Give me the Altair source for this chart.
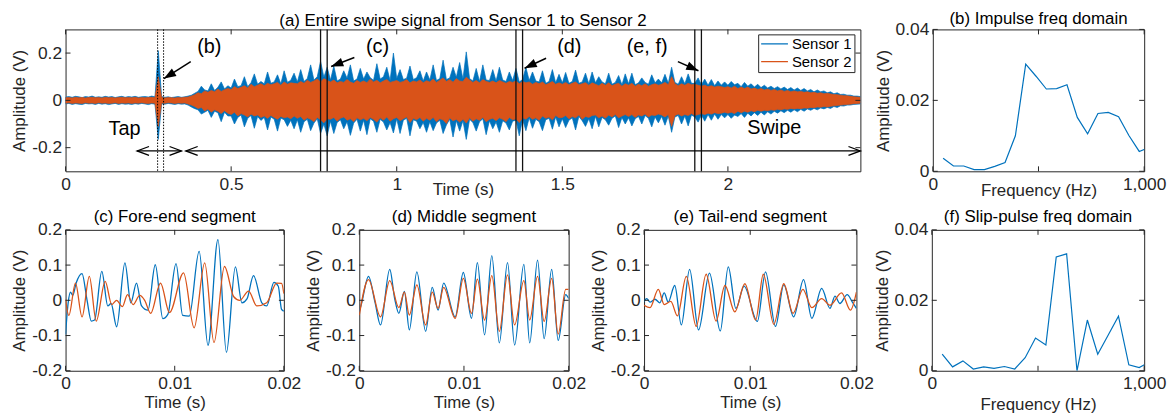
import altair as alt
import pandas as pd

FONT = "Liberation Sans"
BLUE = "#0072BD"
ORANGE = "#D95319"
INK = "#262626"
SENSORS = ["Sensor 1", "Sensor 2"]

# ---------------- (a) entire swipe: envelope read every 0.01 s, 0 .. 2.40 s
A_STEP = 0.01
s1_hi = [
    .014, .016, .013, .017, .015, .012, .016, .014, .018, .013,
    .015, .013, .017, .014, .016, .012, .015, .017, .013, .016,
    .014, .017, .013, .015, .016, .014, .018, .015, .210, .016,
    .013, .015, .012, .014, .016, .013, .015, .018, .022, .030,
    .038, .060, .044, .040, .070, .042, .055, .078, .048, .062,
    .052, .090, .058, .062, .100, .058, .075, .112, .068, .080,
    .070, .120, .072, .078, .108, .070, .125, .076, .085, .115,
    .078, .130, .080, .092, .150, .086, .100, .165, .098, .140,
    .086, .145, .082, .090, .125, .094, .150, .082, .090, .135,
    .090, .120, .096, .085, .155, .090, .100, .140, .084, .200,
    .092, .130, .088, .094, .145, .088, .096, .125, .082, .120,
    .086, .150, .084, .092, .170, .088, .095, .140, .098, .160,
    .090, .205, .092, .082, .135, .080, .150, .086, .084, .130,
    .082, .140, .086, .080, .120, .084, .135, .078, .088, .140,
    .084, .120, .082, .078, .125, .072, .080, .130, .074, .110,
    .074, .118, .072, .080, .128, .072, .078, .115, .070, .120,
    .074, .100, .078, .070, .115, .068, .076, .105, .066, .112,
    .070, .115, .066, .074, .095, .076, .068, .108, .074, .090,
    .074, .110, .072, .140, .076, .068, .100, .070, .112, .072,
    .072, .095, .066, .090, .064, .088, .062, .082, .064, .078,
    .064, .080, .066, .072, .058, .076, .060, .070, .056, .068,
    .054, .064, .052, .060, .050, .058, .048, .056, .046, .054,
    .044, .052, .042, .050, .040, .046, .036, .044, .036, .040,
    .032, .036, .028, .032, .025, .026, .022, .022, .018, .018,
    .016,
]
s1_lo = [
    -.015, -.013, -.017, -.014, -.016, -.018, -.013, -.015, -.014, -.017,
    -.013, -.016, -.014, -.018, -.015, -.013, -.017, -.014, -.016, -.015,
    -.017, -.014, -.016, -.013, -.015, -.018, -.014, -.016, -.165, -.015,
    -.016, -.013, -.015, -.017, -.014, -.016, -.015, -.020, -.028, -.035,
    -.040, -.058, -.050, -.042, -.072, -.046, -.052, -.090, -.050, -.066,
    -.066, -.100, -.072, -.062, -.112, -.076, -.064, -.118, -.068, -.085,
    -.072, -.125, -.070, -.080, -.130, -.075, -.082, -.110, -.084, -.120,
    -.082, -.135, -.090, -.080, -.128, -.096, -.078, -.140, -.100, -.150,
    -.088, -.140, -.094, -.082, -.120, -.090, -.148, -.096, -.080, -.130,
    -.084, -.145, -.078, -.088, -.135, -.080, -.092, -.125, -.094, -.138,
    -.078, -.140, -.084, -.076, -.150, -.082, -.088, -.120, -.094, -.135,
    -.090, -.128, -.096, -.084, -.140, -.104, -.080, -.155, -.086, -.130,
    -.086, -.165, -.080, -.094, -.130, -.090, -.078, -.145, -.086, -.120,
    -.092, -.135, -.086, -.096, -.125, -.088, -.084, -.150, -.080, -.128,
    -.074, -.118, -.080, -.090, -.128, -.082, -.076, -.122, -.070, -.112,
    -.078, -.115, -.084, -.074, -.125, -.068, -.086, -.110, -.078, -.120,
    -.068, -.112, -.072, -.082, -.105, -.076, -.066, -.115, -.072, -.100,
    -.074, -.108, -.078, -.068, -.100, -.064, -.076, -.112, -.070, -.095,
    -.068, -.105, -.066, -.135, -.070, -.064, -.100, -.066, -.108, -.062,
    -.070, -.092, -.062, -.088, -.060, -.084, -.058, -.080, -.060, -.074,
    -.060, -.076, -.062, -.068, -.056, -.072, -.054, -.066, -.052, -.064,
    -.050, -.062, -.048, -.058, -.046, -.054, -.044, -.052, -.042, -.050,
    -.040, -.048, -.038, -.046, -.036, -.042, -.034, -.040, -.032, -.036,
    -.030, -.034, -.026, -.030, -.023, -.024, -.020, -.020, -.017, -.016,
    -.015,
]
s2_hi = [
    .011, .012, .010, .013, .011, .012, .010, .012, .013, .011,
    .012, .010, .013, .011, .012, .010, .012, .013, .011, .012,
    .011, .013, .010, .012, .011, .012, .013, .011, .100, .012,
    .010, .012, .011, .010, .012, .011, .013, .014, .018, .024,
    .032, .028, .040, .034, .042, .036, .048, .038, .045, .050,
    .046, .058, .050, .055, .062, .052, .068, .058, .064, .070,
    .062, .072, .066, .070, .076, .064, .078, .068, .074, .072,
    .070, .080, .072, .085, .076, .082, .090, .078, .092, .084,
    .078, .086, .074, .080, .076, .088, .078, .072, .084, .076,
    .082, .075, .090, .078, .085, .074, .082, .088, .076, .080,
    .084, .076, .080, .088, .074, .082, .078, .086, .075, .083,
    .078, .090, .076, .085, .095, .080, .088, .077, .092, .082,
    .080, .098, .086, .076, .084, .074, .088, .080, .076, .082,
    .074, .084, .078, .072, .080, .076, .082, .070, .080, .074,
    .078, .068, .076, .070, .078, .066, .072, .080, .068, .074,
    .068, .076, .066, .072, .078, .066, .070, .075, .064, .074,
    .068, .062, .072, .064, .074, .062, .068, .072, .060, .070,
    .064, .072, .060, .068, .062, .070, .060, .066, .070, .064,
    .068, .076, .066, .100, .070, .062, .070, .064, .072, .066,
    .068, .064, .060, .064, .058, .062, .056, .060, .058, .054,
    .058, .052, .060, .050, .056, .050, .056, .048, .052, .046,
    .050, .044, .048, .042, .046, .040, .044, .038, .042, .036,
    .040, .036, .038, .034, .036, .032, .034, .030, .032, .028,
    .030, .027, .025, .024, .022, .020, .019, .017, .015, .014,
    .013,
]
s2_lo = [
    -.012, -.010, -.013, -.011, -.012, -.013, -.010, -.012, -.011, -.013,
    -.010, -.012, -.011, -.013, -.012, -.010, -.013, -.011, -.012, -.011,
    -.013, -.011, -.012, -.010, -.012, -.013, -.011, -.012, -.110, -.011,
    -.012, -.010, -.011, -.013, -.011, -.012, -.011, -.015, -.020, -.026,
    -.034, -.030, -.045, -.036, -.050, -.040, -.046, -.056, -.044, -.054,
    -.060, -.050, -.066, -.056, -.062, -.070, -.058, -.066, -.062, -.072,
    -.066, -.076, -.064, -.072, -.080, -.068, -.074, -.070, -.078, -.066,
    -.076, -.068, -.084, -.074, -.080, -.090, -.072, -.082, -.095, -.078,
    -.080, -.072, -.088, -.076, -.070, -.084, -.078, -.090, -.074, -.082,
    -.076, -.086, -.072, -.080, -.092, -.074, -.084, -.070, -.088, -.078,
    -.072, -.086, -.078, -.070, -.094, -.076, -.082, -.072, -.088, -.076,
    -.084, -.072, -.090, -.078, -.082, -.098, -.074, -.086, -.080, -.092,
    -.080, -.096, -.074, -.088, -.078, -.084, -.072, -.090, -.080, -.076,
    -.086, -.074, -.080, -.090, -.072, -.082, -.078, -.094, -.074, -.080,
    -.068, -.080, -.074, -.084, -.066, -.076, -.070, -.082, -.064, -.074,
    -.072, -.064, -.078, -.068, -.074, -.062, -.080, -.068, -.072, -.064,
    -.062, -.074, -.066, -.076, -.062, -.070, -.060, -.074, -.066, -.060,
    -.068, -.060, -.072, -.062, -.066, -.058, -.070, -.062, -.064, -.058,
    -.062, -.070, -.060, -.110, -.064, -.058, -.066, -.060, -.064, -.056,
    -.064, -.060, -.056, -.060, -.054, -.058, -.052, -.056, -.054, -.050,
    -.054, -.050, -.056, -.046, -.052, -.046, -.050, -.044, -.048, -.042,
    -.046, -.042, -.044, -.040, -.042, -.038, -.040, -.036, -.038, -.034,
    -.036, -.034, -.035, -.032, -.033, -.030, -.031, -.028, -.029, -.026,
    -.028, -.025, -.023, -.022, -.020, -.019, -.017, -.016, -.014, -.013,
    -.012,
]

a_xticks = [0, 0.5, 1, 1.5, 2]
a_yticks = [-0.2, 0, 0.2]
tap_lines = [0.278, 0.296]
segment_lines = [0.77, 0.79, 1.36, 1.38, 1.90, 1.92]

ann_labels = ["(b)", "(c)", "(d)", "(e, f)"]
ann_t = [0.434, 0.942, 1.521, 1.756]
ann_v = [0.202, 0.202, 0.202, 0.202]
arrow_tail_t = [0.378, 0.872, 1.451, 1.849]
arrow_tail_v = [0.164, 0.181, 0.178, 0.164]
arrow_tip_t = [0.297, 0.802, 1.386, 1.911]
arrow_tip_v = [0.092, 0.143, 0.136, 0.125]
arrow_angle = [238, 249, 245, 114]

span_labels = ["Tap", "Swipe"]
span_label_t = [0.178, 2.140]
span_label_v = [-0.147, -0.141]
span_start = [0.216, 0.363]
span_end = [0.350, 2.400]
span_level = [-0.214, -0.214]

# ---------------- (b), (f) spectra
fft_freq = [48.8, 97.7, 146.5, 195.3, 244.1, 293.0, 341.8, 390.6, 439.5, 488.3, 537.1,
            585.9, 634.8, 683.6, 732.4, 781.3, 830.1, 878.9, 927.7, 976.6, 1025.4]
impulse_amp = [0.0037, 0.0015, 0.0015, 0.0005, 0.0005, 0.0014, 0.0025, 0.0100, 0.0302, 0.0268, 0.0232,
               0.0233, 0.0244, 0.0152, 0.0106, 0.0163, 0.0166, 0.0154, 0.0101, 0.0056, 0.0068]
slip_amp = [0.0047, 0.0011, 0.0028, 0.0005, 0.0011, 0.0007, 0.0012, 0.0005, 0.0037, 0.0093, 0.0073,
            0.0323, 0.0332, 0.0000, 0.0144, 0.0047, 0.0101, 0.0155, 0.0017, 0.0009, 0.0025]
f_xticks = [0, 500, 1000]
f_xlabels = [0, 1000]
f_yticks = [0, 0.02, 0.04]

# ---------------- (c), (d), (e) 20 ms segments
c_s1_t = [0, 0.00024, 0.00045, 0.00066, 0.00097, 0.00151, 0.00196, 0.00236, 0.00266, 0.00332, 0.00387,
          0.00417, 0.00468, 0.00544, 0.00598, 0.0065, 0.00695, 0.00755, 0.00822, 0.00891, 0.00937,
          0.01012, 0.01073, 0.01133, 0.01224, 0.01305, 0.01396, 0.01474, 0.01556, 0.01616, 0.01662,
          0.01722, 0.01798, 0.01843, 0.01909, 0.01949, 0.01979, 0.02]
c_s1_v = [-0.097, -0.007, 0.023, 0.014, 0.049, 0.076, 0.002, -0.059, -0.056, 0.082, -0.016,
          -0.009, -0.075, 0.106, -0.007, 0.049, -0.015, -0.028, 0.101, -0.052, -0.040,
          0.104, -0.043, -0.045, 0.139, -0.128, 0.172, -0.148, 0.095, -0.007, 0.004,
          0.070, -0.007, -0.016, 0.051, 0.040, -0.026, -0.031]
c_s2_t = [0, 0.0003, 0.00091, 0.00151, 0.00218, 0.00281, 0.00363, 0.00423, 0.00468, 0.0052, 0.00568,
          0.00619, 0.0068, 0.00725, 0.0078, 0.0087, 0.00952, 0.01081, 0.01178, 0.01275, 0.0136,
          0.01456, 0.01541, 0.01595, 0.01677, 0.01752, 0.01843, 0.01934, 0.01979, 0.02]
c_s2_v = [0.002, -0.043, 0.049, -0.047, 0.068, -0.059, 0.054, -0.012, 0.000, -0.018, 0.016,
          -0.012, 0.014, 0.000, -0.037, 0.049, -0.035, 0.078, -0.078, 0.106, -0.120,
          0.096, 0.010, 0.000, 0.026, -0.016, -0.007, 0.049, 0.048, 0.019]

d_s1_t = [0, 0.00025, 0.00088, 0.0015, 0.00203, 0.00291, 0.00338, 0.00378, 0.00431, 0.00478, 0.0055,
          0.00634, 0.00697, 0.00753, 0.00806, 0.00916, 0.00994, 0.01072, 0.01128, 0.01197, 0.01266,
          0.01338, 0.01416, 0.01484, 0.01572, 0.01628, 0.01703, 0.01766, 0.01838, 0.019, 0.01972, 0.02]
d_s1_v = [-0.033, -0.005, 0.068, -0.005, -0.070, 0.088, 0.005, -0.037, 0.025, -0.084, 0.081,
          -0.088, 0.037, -0.028, 0.049, -0.047, 0.079, -0.051, 0.107, -0.098, 0.127,
          -0.121, 0.107, -0.127, 0.102, -0.121, 0.114, -0.109, 0.088, -0.114, 0.016, 0.005]
d_s2_t = [0, 0.00088, 0.00203, 0.00291, 0.00378, 0.00431, 0.00478, 0.0055, 0.00634, 0.00697, 0.00753,
          0.00806, 0.00916, 0.00994, 0.01072, 0.01128, 0.01197, 0.01266, 0.01338, 0.01416, 0.01484,
          0.01572, 0.01628, 0.01703, 0.01766, 0.01838, 0.019, 0.01972, 0.02]
d_s2_v = [-0.042, 0.059, -0.047, 0.056, -0.021, 0.023, -0.042, 0.044, -0.070, 0.023, -0.023,
          0.037, -0.051, 0.062, -0.037, 0.060, -0.056, 0.070, -0.088, 0.072, -0.070,
          0.056, -0.056, 0.068, -0.060, 0.062, -0.096, 0.031, 0.031]

e_s1_t = [0, 0.00025, 0.00056, 0.00103, 0.00149, 0.0019, 0.00227, 0.00289, 0.00351, 0.00429, 0.00513,
          0.00616, 0.00718, 0.00793, 0.00865, 0.00942, 0.01067, 0.01144, 0.01238, 0.01316, 0.01409,
          0.01502, 0.0158, 0.01673, 0.01751, 0.01798, 0.01844, 0.01913, 0.01962, 0.02]
e_s1_v = [-0.003, 0.005, -0.005, 0.003, -0.007, 0.021, -0.005, 0.042, -0.070, 0.088, -0.084,
          0.077, -0.087, 0.095, -0.023, 0.040, -0.060, 0.081, -0.074, 0.044, -0.047,
          0.059, -0.051, 0.034, -0.023, 0.012, -0.009, 0.016, -0.005, -0.023]
e_s2_t = [0, 0.00056, 0.00134, 0.0019, 0.00252, 0.00314, 0.00398, 0.00491, 0.00585, 0.00678, 0.00762,
          0.00855, 0.00949, 0.01051, 0.01123, 0.01222, 0.01316, 0.01403, 0.01496, 0.0158, 0.01673,
          0.01751, 0.0186, 0.01944, 0.02]
e_s2_v = [-0.014, -0.021, 0.031, -0.012, -0.003, -0.044, 0.068, -0.074, 0.074, -0.059, 0.042,
          -0.033, 0.047, -0.056, 0.074, -0.068, 0.047, -0.037, 0.031, -0.021, 0.005,
          -0.014, 0.021, -0.028, 0.023]
seg_xticks = [0, 0.01, 0.02]
seg_yticks = [-0.2, -0.1, 0, 0.1, 0.2]

# ---------------- layout (pixels)
A_W, A_H = 801, 143
B_W = 213
ROW2_H = 142
C_W, D_W, E_W, F_W = 220, 211, 214, 214
TICK = 5

color_scale = alt.Scale(domain=SENSORS, range=[BLUE, ORANGE])
PLAIN = "'' + datum.value"


def inner_ticks(xs, ys, W, H, xscale, yscale, xaxis, yaxis):
    xdf = pd.DataFrame({"v": xs})
    ydf = pd.DataFrame({"v": ys})
    bx = alt.Chart(xdf).mark_rule(color=INK, strokeWidth=1)
    by = alt.Chart(ydf).mark_rule(color=INK, strokeWidth=1)
    X = alt.X("v:Q", scale=xscale, axis=xaxis)
    Y = alt.Y("v:Q", scale=yscale, axis=yaxis)
    return [
        bx.encode(x=X, y=alt.value(H), y2=alt.value(H - TICK)),
        bx.encode(x=X, y=alt.value(0), y2=alt.value(TICK)),
        by.encode(y=Y, x=alt.value(0), x2=alt.value(TICK)),
        by.encode(y=Y, x=alt.value(W), x2=alt.value(W - TICK)),
    ]


def y_axis(values):
    return alt.Axis(values=values, labelExpr=PLAIN, title="Amplitude (V)")


def panel_title(text, offset):
    return alt.TitleParams(text=text, frame="group", offset=offset)


# ---------------- panel (a)
n = len(s1_hi)
t_grid = [round(i * A_STEP, 2) for i in range(n)]
env = pd.DataFrame({
    "t": t_grid + t_grid,
    "sensor": ["Sensor 1"] * n + ["Sensor 2"] * n,
    "hi": s1_hi + s2_hi,
    "lo": s1_lo + s2_lo,
})
ax_x = alt.Scale(domain=[0, 2.4], nice=False, zero=False)
ax_y = alt.Scale(domain=[-0.3, 0.3], nice=False, zero=False)
a_xaxis = alt.Axis(values=a_xticks, labelExpr=PLAIN, title="Time (s)", titleY=23, titleBaseline="alphabetic")
a_yaxis = y_axis(a_yticks)
AX = dict(scale=ax_x, axis=a_xaxis)
AY = dict(scale=ax_y, axis=a_yaxis)

legend = alt.Legend(
    orient="none", legendX=698, legendY=5, title=None, symbolType="stroke",
    symbolSize=729, symbolStrokeWidth=1.3, clipHeight=15, rowPadding=2,
    labelFontSize=15, labelFont=FONT, labelColor="black", labelOffset=3,
    padding=2, strokeColor=INK, fillColor="white", labelLimit=200,
)
area_base = alt.Chart(env).mark_area(strokeWidth=0.7, strokeJoin="round", clip=True)
area_enc = dict(
    x=alt.X("t:Q", **AX),
    y=alt.Y("hi:Q", **AY),
    y2="lo:Q",
    fill=alt.Fill("sensor:N", scale=color_scale, legend=legend),
    stroke=alt.Stroke("sensor:N", scale=color_scale, legend=legend),
)
area1 = area_base.transform_filter("datum.sensor == 'Sensor 1'").encode(**area_enc)
area2 = area_base.transform_filter("datum.sensor == 'Sensor 2'").encode(**area_enc)

tap_df = pd.DataFrame({"t": tap_lines})
tap_rules = alt.Chart(tap_df).mark_rule(color="black", strokeWidth=1, strokeDash=[1.5, 1.5]).encode(
    x=alt.X("t:Q", **AX))
seg_df = pd.DataFrame({"t": segment_lines})
seg_rules = alt.Chart(seg_df).mark_rule(color="#111111", strokeWidth=1.3).encode(x=alt.X("t:Q", **AX))

span_df = pd.DataFrame({"t1": span_start, "t2": span_end, "v": span_level,
                        "label": span_labels, "lt": span_label_t, "lv": span_label_v})
span_rules = alt.Chart(span_df).mark_rule(color="black", strokeWidth=1.3).encode(
    x=alt.X("t1:Q", **AX), x2="t2:Q", y=alt.Y("v:Q", **AY))
left_heads = alt.Chart(span_df).mark_point(
    shape="M2,-0.75L0,0L2,0.75", filled=False, size=144, color="black", strokeWidth=1.3, opacity=1
).encode(x=alt.X("t1:Q", **AX), y=alt.Y("v:Q", **AY))
right_heads = alt.Chart(span_df).mark_point(
    shape="M-2,-0.75L0,0L-2,0.75", filled=False, size=144, color="black", strokeWidth=1.3, opacity=1
).encode(x=alt.X("t2:Q", **AX), y=alt.Y("v:Q", **AY))
span_text = alt.Chart(span_df).mark_text(font=FONT, fontSize=20, color="black", baseline="alphabetic",
                                         align="center").encode(
    x=alt.X("lt:Q", **AX), y=alt.Y("lv:Q", **AY), text="label:N")

ann_df = pd.DataFrame({"label": ann_labels, "lt": ann_t, "lv": ann_v,
                       "t1": arrow_tail_t, "v1": arrow_tail_v, "t2": arrow_tip_t, "v2": arrow_tip_v,
                       "ang": arrow_angle})
ann_text = alt.Chart(ann_df).mark_text(font=FONT, fontSize=20, color="black", baseline="alphabetic",
                                       align="center").encode(
    x=alt.X("lt:Q", **AX), y=alt.Y("lv:Q", **AY), text="label:N")
ann_lines = alt.Chart(ann_df).mark_rule(color="black", strokeWidth=1.5).encode(
    x=alt.X("t1:Q", **AX), y=alt.Y("v1:Q", **AY), x2="t2:Q", y2="v2:Q")
ann_heads = alt.Chart(ann_df).mark_point(
    shape="M0,0L-0.36,1L0.36,1Z", filled=True, size=600, color="black", opacity=1, strokeWidth=0
).encode(x=alt.X("t2:Q", **AX), y=alt.Y("v2:Q", **AY), angle=alt.Angle("ang:Q", scale=None))

panel_a = alt.layer(
    area1, area2, tap_rules, seg_rules, span_rules, left_heads, right_heads, span_text,
    ann_lines, ann_heads, ann_text,
    *inner_ticks(a_xticks, a_yticks, A_W, A_H, ax_x, ax_y, a_xaxis, a_yaxis),
).properties(width=A_W, height=A_H,
             title=panel_title("(a) Entire swipe signal from Sensor 1 to Sensor 2", -1))


# ---------------- spectra panels
def spectrum_panel(amps, title, W, H, title_y, title_offset):
    xs = alt.Scale(domain=[0, 1000], nice=False, zero=False)
    ys = alt.Scale(domain=[0, 0.04], nice=False)
    xaxis = alt.Axis(values=f_xlabels, labelExpr="format(datum.value, ',')", title="Frequency (Hz)",
                     titleY=title_y, titleBaseline="alphabetic")
    yaxis = y_axis(f_yticks)
    df = pd.DataFrame({"f": fft_freq, "a": amps})
    line = alt.Chart(df).mark_line(color=BLUE, strokeWidth=1.2, clip=True).encode(
        x=alt.X("f:Q", scale=xs, axis=xaxis),
        y=alt.Y("a:Q", scale=ys, axis=yaxis),
    )
    return alt.layer(line, *inner_ticks(f_xticks, f_yticks, W, H, xs, ys, xaxis, yaxis)).properties(
        width=W, height=H, title=panel_title(title, title_offset))


# ---------------- segment panels
def segment_panel(s1t, s1v, s2t, s2v, title, W):
    xs = alt.Scale(domain=[0, 0.02], nice=False, zero=False)
    ys = alt.Scale(domain=[-0.2, 0.2], nice=False)
    xaxis = alt.Axis(values=seg_xticks, labelExpr=PLAIN, title="Time (s)", titleY=37,
                     titleBaseline="alphabetic")
    yaxis = y_axis(seg_yticks)
    d1 = pd.DataFrame({"t": s1t, "v": s1v, "sensor": "Sensor 1"})
    d2 = pd.DataFrame({"t": s2t, "v": s2v, "sensor": "Sensor 2"})
    col = alt.Color("sensor:N", scale=color_scale, legend=None)
    l1 = alt.Chart(d1).mark_line(interpolate="monotone", strokeWidth=1.3, clip=True).encode(
        x=alt.X("t:Q", scale=xs, axis=xaxis), y=alt.Y("v:Q", scale=ys, axis=yaxis), color=col)
    l2 = alt.Chart(d2).mark_line(interpolate="monotone", strokeWidth=1.3, clip=True).encode(
        x=alt.X("t:Q", scale=xs, axis=xaxis), y=alt.Y("v:Q", scale=ys, axis=yaxis), color=col)
    return alt.layer(l1, l2, *inner_ticks(seg_xticks, seg_yticks, W, ROW2_H, xs, ys, xaxis, yaxis)).properties(
        width=W, height=ROW2_H, title=panel_title(title, -5))


panel_b = spectrum_panel(impulse_amp, "(b) Impulse freq domain", B_W, A_H, 24, -8)
panel_c = segment_panel(c_s1_t, c_s1_v, c_s2_t, c_s2_v, "(c) Fore-end segment", C_W)
panel_d = segment_panel(d_s1_t, d_s1_v, d_s2_t, d_s2_v, "(d) Middle segment", D_W)
panel_e = segment_panel(e_s1_t, e_s1_v, e_s2_t, e_s2_v, "(e) Tail-end segment", E_W)
panel_f = spectrum_panel(slip_amp, "(f) Slip-pulse freq domain", F_W, ROW2_H, 39, -5)

indep = dict(color="independent", fill="independent", stroke="independent")
row1 = alt.hconcat(panel_a, panel_b, spacing=73, bounds="flush").resolve_scale(**indep)
row2 = alt.hconcat(panel_c, panel_d, panel_e, panel_f, spacing=76, bounds="flush").resolve_scale(**indep)

chart = (
    alt.vconcat(row1, row2, spacing=8)
    .resolve_scale(**indep)
    .properties(padding={"left": 2, "top": 0, "right": 0, "bottom": 0})
    .configure(font=FONT)
    .configure_view(stroke=INK, strokeWidth=1)
    .configure_title(font=FONT, fontSize=17, fontWeight="normal", color="black", anchor="middle")
    .configure_axis(
        labelFont=FONT, titleFont=FONT, labelFontSize=17.5, titleFontSize=17, titleFontWeight="normal",
        labelColor=INK, titleColor=INK, grid=False, ticks=False, domain=False, labelPadding=4,
        titlePadding=3, labelFlush=False, labelOverlap=False,
    )
)

chart.save("out.html", embed_options={"renderer": "svg", "actions": False})
